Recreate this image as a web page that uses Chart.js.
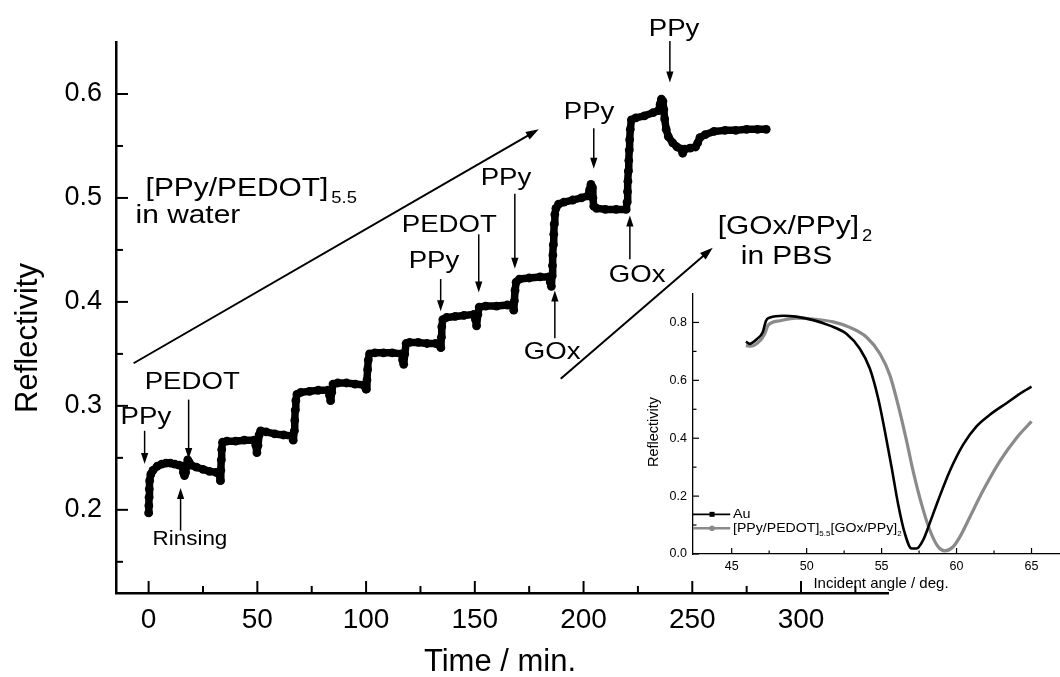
<!DOCTYPE html>
<html>
<head>
<meta charset="utf-8">
<script src="https://cdn.jsdelivr.net/npm/chart.js@4.4.1/dist/chart.umd.min.js"></script>
<style>
  html, body { margin: 0; padding: 0; background: #fff; }
  #wrap { position: relative; width: 1060px; height: 677px; overflow: hidden; }
  #mainChart { position: absolute; left: 0; top: 0; }
  #insetChart { position: absolute; left: 630px; top: 280px; }
</style>
</head>
<body>
<div id="wrap">
  <canvas id="mainChart" width="1060" height="677"></canvas>
  <canvas id="insetChart" width="430" height="320"></canvas>
</div>
<script>
// --- main plot: reflectivity vs time during layer-by-layer deposition ---
const timeMin = [
  0, 0.1, 0.2, 0.3, 0.5, 1, 2, 4, 6, 8, 10, 12, 14, 15.5, 16, 16.5, 17, 17.5, 18, 18.6,
  19.5, 22, 25, 28, 31, 32.5, 33, 33.2, 33.4, 33.6, 34, 36, 40, 44, 48.5, 49.3, 49.8, 50.3, 50.8, 51.5,
  54, 58, 62, 66, 66.5, 67, 67.2, 67.4, 67.7, 68.2, 70, 74, 78, 82.5, 83.2, 83.7, 84.2, 84.8, 87, 91,
  95, 99, 100, 100.4, 100.7, 101, 101.6, 104, 108, 112, 116.3, 116.8, 117.3, 117.8, 118.4, 120, 124, 128, 132, 134,
  134.4, 134.6, 134.8, 135.3, 137, 141, 145, 149.5, 150.3, 150.8, 151.4, 152, 155, 160, 165, 167.5, 167.9, 168.2, 168.5, 169,
  170.5, 175, 180, 184, 184.7, 185.2, 185.5, 185.7, 185.9, 186.1, 186.3, 186.5, 186.8, 187.3, 188.5, 191, 195, 199, 202, 202.8,
  203.4, 204, 204.3, 204.7, 206, 210, 215, 219.6, 220, 220.2, 220.4, 220.6, 220.8, 221, 221.2, 221.5, 222, 224, 228, 232,
  234.5, 235.2, 235.8, 236.5, 236.9, 237.3, 238, 239, 241, 243, 245, 245.6, 246.5, 249, 251.5, 252.5, 253.5, 256, 260, 265,
  270, 275, 280, 284
];
const reflectivity = [
  0.197, 0.204, 0.212, 0.220, 0.228, 0.234, 0.238, 0.242, 0.244, 0.245, 0.245, 0.244, 0.243, 0.242, 0.236, 0.233, 0.236, 0.243, 0.248, 0.246,
  0.243, 0.241, 0.239, 0.237, 0.236, 0.234, 0.228, 0.238, 0.248, 0.258, 0.265, 0.266, 0.266, 0.267, 0.267, 0.262, 0.255, 0.262, 0.272, 0.276,
  0.275, 0.273, 0.272, 0.271, 0.267, 0.276, 0.286, 0.296, 0.305, 0.311, 0.313, 0.314, 0.315, 0.315, 0.310, 0.305, 0.313, 0.321, 0.322, 0.322,
  0.321, 0.320, 0.316, 0.325, 0.335, 0.344, 0.350, 0.351, 0.351, 0.351, 0.350, 0.344, 0.340, 0.350, 0.360, 0.361, 0.361, 0.360, 0.360, 0.358,
  0.356, 0.366, 0.376, 0.383, 0.385, 0.386, 0.387, 0.388, 0.383, 0.377, 0.388, 0.395, 0.396, 0.396, 0.397, 0.397, 0.392, 0.401, 0.411, 0.419,
  0.422, 0.423, 0.424, 0.424, 0.419, 0.415, 0.425, 0.435, 0.445, 0.455, 0.465, 0.475, 0.484, 0.490, 0.494, 0.496, 0.498, 0.500, 0.502, 0.508,
  0.513, 0.510, 0.500, 0.492, 0.490, 0.489, 0.489, 0.489, 0.496, 0.506, 0.516, 0.526, 0.536, 0.546, 0.556, 0.566, 0.575, 0.577, 0.579, 0.582,
  0.584, 0.590, 0.595, 0.593, 0.585, 0.576, 0.566, 0.559, 0.553, 0.549, 0.547, 0.543, 0.547, 0.548, 0.549, 0.553, 0.558, 0.561, 0.564, 0.565,
  0.565, 0.566, 0.566, 0.566
];
const xMajorTicks = [0, 50, 100, 150, 200, 250, 300];
const xMinorTicks = [25, 75, 125, 175, 225, 275, 325];
const xTickLabels = ['0', '50', '100', '150', '200', '250', '300'];
const yMajorTicks = [0.2, 0.3, 0.4, 0.5, 0.6];
const yMinorTicks = [0.15, 0.25, 0.35, 0.45, 0.55];
const yTickLabels = ['0.2', '0.3', '0.4', '0.5', '0.6'];

// --- inset: SPR angular scans ---
const angleAu = [45.95, 46.2, 46.67, 47.07, 47.29, 47.56, 48.44, 49.3, 50.44, 51.55, 52.67, 53.55, 54.22, 54.77, 55.22,
  55.67, 56.1, 56.55, 57.0, 57.33, 57.77, 58.2, 58.77, 59.55, 60.44, 61.33, 62.22, 63.33, 64.44, 65.0];
const reflAu = [0.734, 0.726, 0.742, 0.766, 0.806, 0.817, 0.823, 0.820, 0.808, 0.789, 0.760, 0.709, 0.640, 0.538, 0.424,
  0.299, 0.173, 0.071, 0.019, 0.019, 0.048, 0.105, 0.185, 0.287, 0.378, 0.441, 0.481, 0.521, 0.561, 0.578];
const angleFilm = [45.95, 46.3, 46.89, 47.2, 47.44, 48.22, 49.3, 50.44, 51.77, 52.88, 54.0, 54.89, 55.55, 56.1, 56.67,
  57.1, 57.66, 58.22, 58.77, 59.22, 59.77, 60.22, 60.89, 61.77, 62.89, 64.0, 65.0];
const reflFilm = [0.720, 0.718, 0.737, 0.760, 0.791, 0.806, 0.815, 0.812, 0.802, 0.783, 0.749, 0.692, 0.618, 0.515, 0.390,
  0.287, 0.173, 0.082, 0.025, 0.011, 0.025, 0.059, 0.128, 0.219, 0.321, 0.401, 0.458];
const insetXMajor = [45, 50, 55, 60, 65];
const insetXMinor = [47.5, 52.5, 57.5, 62.5];
const insetXLabels = ['45', '50', '55', '60', '65'];
const insetYMajor = [0, 0.2, 0.4, 0.6, 0.8];
const insetYMinor = [0.1, 0.3, 0.5, 0.7];
const insetYLabels = ['0.0', '0.2', '0.4', '0.6', '0.8'];

// annotations (positions in data units of the main plot)
const labels = [
  { text: 'PPy', t: -12.9, r: 0.283, size: 24 },
  { text: 'PEDOT', t: -1.8, r: 0.316, size: 24 },
  { text: 'Rinsing', t: 1.8, r: 0.166, size: 19.5 },
  { text: 'PPy', t: 119.6, r: 0.433, size: 24 },
  { text: 'PEDOT', t: 116.4, r: 0.467, size: 24 },
  { text: 'PPy', t: 152.7, r: 0.512, size: 24 },
  { text: 'GOx', t: 172.5, r: 0.345, size: 24 },
  { text: 'GOx', t: 211.6, r: 0.419, size: 24 },
  { text: 'PPy', t: 190.9, r: 0.576, size: 24 },
  { text: 'PPy', t: 230.0, r: 0.656, size: 24 },
  { text: '[PPy/PEDOT]', sub: '5.5', t: -1.4, r: 0.502, size: 26 },
  { text: 'in water', t: -6.0, r: 0.476, size: 26 },
  { text: '[GOx/PPy]', sub: '2', t: 261.7, r: 0.465, size: 26 },
  { text: 'in PBS', t: 272.3, r: 0.4365, size: 26 }
];
const arrows = [
  { t1: -1.84, r1: 0.276, t2: -1.84, r2: 0.244, w: 1.5, head: 11 },
  { t1: 18.4, r1: 0.306, t2: 18.4, r2: 0.249, w: 1.5, head: 11 },
  { t1: 14.7, r1: 0.180, t2: 14.7, r2: 0.221, w: 1.5, head: 11 },
  { t1: 134.3, r1: 0.422, t2: 134.3, r2: 0.391, w: 1.5, head: 11 },
  { t1: 151.8, r1: 0.465, t2: 151.8, r2: 0.409, w: 1.5, head: 11 },
  { t1: 168.4, r1: 0.504, t2: 168.4, r2: 0.432, w: 1.5, head: 11 },
  { t1: 186.8, r1: 0.365, t2: 186.8, r2: 0.411, w: 1.5, head: 11 },
  { t1: 221.3, r1: 0.441, t2: 221.3, r2: 0.483, w: 1.5, head: 11 },
  { t1: 204.7, r1: 0.567, t2: 204.7, r2: 0.528, w: 1.5, head: 11 },
  { t1: 239.7, r1: 0.651, t2: 239.7, r2: 0.611, w: 1.5, head: 11 },
  { t1: -6.9, r1: 0.341, t2: 179.4, r2: 0.566, w: 2, head: 13 },
  { t1: 189.5, r1: 0.326, t2: 259.4, r2: 0.452, w: 2, head: 13 }
];

const FONT = "'Liberation Sans', Arial, Helvetica, sans-serif";
const STRETCH = 1.15;

function stretchText(ctx, text, x, y, size, stretch) {
  ctx.save();
  ctx.font = size + 'px ' + FONT;
  ctx.textAlign = 'left';
  ctx.textBaseline = 'alphabetic';
  ctx.translate(x, y);
  ctx.scale(stretch, 1);
  ctx.fillText(text, 0, 0);
  const w = ctx.measureText(text).width * stretch;
  ctx.restore();
  return w;
}

function drawArrow(ctx, x1, y1, x2, y2, width, head) {
  const a = Math.atan2(y2 - y1, x2 - x1);
  const c = Math.cos(a), s = Math.sin(a);
  ctx.lineWidth = width;
  ctx.beginPath();
  ctx.moveTo(x1, y1);
  ctx.lineTo(x2 - c * head * 0.7, y2 - s * head * 0.7);
  ctx.stroke();
  const hw = head * 0.33;
  ctx.beginPath();
  ctx.moveTo(x2, y2);
  ctx.lineTo(x2 - head * c + hw * s, y2 - head * s - hw * c);
  ctx.lineTo(x2 - head * c - hw * s, y2 - head * s + hw * c);
  ctx.closePath();
  ctx.fill();
}

// inward tick marks, drawn from the scales
const inTicks = {
  id: 'inTicks',
  afterDraw(chart, args, opts) {
    const { ctx, chartArea: ca, scales: { x, y } } = chart;
    ctx.save();
    ctx.strokeStyle = '#000';
    ctx.lineWidth = opts.width;
    const mark = (list, len, horiz) => list.forEach(v => {
      ctx.beginPath();
      if (horiz) {
        const px = x.getPixelForValue(v);
        ctx.moveTo(px, ca.bottom);
        ctx.lineTo(px, ca.bottom - len);
      } else {
        const py = y.getPixelForValue(v);
        ctx.moveTo(ca.left, py);
        ctx.lineTo(ca.left + len, py);
      }
      ctx.stroke();
    });
    mark(opts.xMajor, opts.major, true);
    mark(opts.xMinor, opts.minor, true);
    mark(opts.yMajor, opts.major, false);
    mark(opts.yMinor, opts.minor, false);
    ctx.restore();
  }
};

const mainDecor = {
  id: 'mainDecor',
  afterDraw(chart) {
    const { ctx, scales: { x, y } } = chart;
    ctx.save();
    ctx.fillStyle = '#000';
    ctx.strokeStyle = '#000';
    labels.forEach(l => {
      const px = x.getPixelForValue(l.t), py = y.getPixelForValue(l.r);
      const w = stretchText(ctx, l.text, px, py, l.size, STRETCH);
      if (l.sub) stretchText(ctx, l.sub, px + w + 3, py + 7, 16, STRETCH);
    });
    arrows.forEach(a => {
      drawArrow(ctx, x.getPixelForValue(a.t1), y.getPixelForValue(a.r1),
        x.getPixelForValue(a.t2), y.getPixelForValue(a.r2), a.w, a.head);
    });
    // axis titles
    ctx.font = '31px ' + FONT;
    ctx.textAlign = 'center';
    ctx.textBaseline = 'alphabetic';
    ctx.fillText('Time / min.', 500, 671);
    ctx.translate(37, 338);
    ctx.rotate(-Math.PI / 2);
    ctx.fillText('Reflectivity', 0, 0);
    ctx.restore();
  }
};

const insetDecor = {
  id: 'insetDecor',
  afterDraw(chart) {
    const { ctx, scales: { x, y } } = chart;
    ctx.save();
    ctx.fillStyle = '#000';
    // legend
    const x0 = x.getPixelForValue(42.42), x1 = x.getPixelForValue(44.9), xm = x.getPixelForValue(43.69);
    const yA = y.getPixelForValue(0.137), yF = y.getPixelForValue(0.089);
    ctx.strokeStyle = '#000';
    ctx.lineWidth = 1.6;
    ctx.beginPath(); ctx.moveTo(x0, yA); ctx.lineTo(x1, yA); ctx.stroke();
    ctx.fillRect(xm - 2.5, yA - 2.5, 5, 5);
    ctx.strokeStyle = '#8a8a8a';
    ctx.fillStyle = '#8a8a8a';
    ctx.lineWidth = 2.4;
    ctx.beginPath(); ctx.moveTo(x0, yF); ctx.lineTo(x1, yF); ctx.stroke();
    ctx.beginPath(); ctx.arc(xm, yF, 2.8, 0, Math.PI * 2); ctx.fill();
    ctx.fillStyle = '#000';
    const tx = x.getPixelForValue(45.09);
    stretchText(ctx, 'Au', tx, y.getPixelForValue(0.123), 12.5, 1.15);
    let cx = tx;
    const by = y.getPixelForValue(0.075);
    cx += stretchText(ctx, '[PPy/PEDOT]', cx, by, 12.5, 1.13);
    cx += stretchText(ctx, '5.5', cx, by + 4, 8, 1.0);
    cx += stretchText(ctx, '[GOx/PPy]', cx, by, 12.5, 1.13);
    stretchText(ctx, '2', cx, by + 4, 8, 1.0);
    // axis titles
    ctx.font = '15px ' + FONT;
    ctx.textAlign = 'center';
    ctx.fillText('Incident angle / deg.', 251, 308);
    ctx.translate(28, 152);
    ctx.rotate(-Math.PI / 2);
    ctx.font = '14.5px ' + FONT;
    ctx.fillText('Reflectivity', 0, 0);
    ctx.restore();
  }
};

const toPoints = (xs, ys) => xs.map((v, i) => ({ x: v, y: ys[i] }));

new Chart(document.getElementById('mainChart'), {
  type: 'line',
  data: {
    datasets: [{
      data: toPoints(timeMin, reflectivity),
      borderColor: '#000',
      backgroundColor: '#000',
      borderWidth: 7.5,
      borderJoinStyle: 'round',
      borderCapStyle: 'round',
      pointRadius: 4.4,
      pointBorderWidth: 0,
      tension: 0
    }]
  },
  options: {
    responsive: false,
    animation: false,
    devicePixelRatio: 1,
    layout: { padding: { left: 0, top: 42, right: 172, bottom: 0 } },
    plugins: {
      legend: { display: false },
      tooltip: { enabled: false },
      inTicks: { xMajor: xMajorTicks, xMinor: xMinorTicks, yMajor: yMajorTicks, yMinor: yMinorTicks, major: 12, minor: 7, width: 2 }
    },
    scales: {
      x: {
        type: 'linear', min: -15, max: 340,
        afterFit: s => { s.height = 84; },
        afterBuildTicks: s => { s.ticks = xMajorTicks.map(v => ({ value: v })); },
        grid: { display: false, drawTicks: false },
        border: { display: true, color: '#000', width: 2.5 },
        ticks: {
          color: '#000', padding: 10, maxRotation: 0,
          font: { family: FONT, size: 28 },
          callback: (v, i) => xTickLabels[i]
        }
      },
      y: {
        type: 'linear', min: 0.12, max: 0.65,
        afterFit: s => { s.width = 116; },
        afterBuildTicks: s => { s.ticks = yMajorTicks.map(v => ({ value: v })); },
        grid: { display: false, drawTicks: false },
        border: { display: true, color: '#000', width: 2.5 },
        ticks: {
          color: '#000', padding: 14,
          font: { family: FONT, size: 27 },
          callback: (v, i) => yTickLabels[i]
        }
      }
    }
  },
  plugins: [inTicks, mainDecor]
});

new Chart(document.getElementById('insetChart'), {
  type: 'line',
  data: {
    datasets: [{
      label: 'Au',
      data: toPoints(angleAu, reflAu),
      borderColor: '#000',
      borderWidth: 2.6,
      pointRadius: 0,
      cubicInterpolationMode: 'monotone'
    }, {
      label: '[PPy/PEDOT]5.5[GOx/PPy]2',
      data: toPoints(angleFilm, reflFilm),
      borderColor: '#8a8a8a',
      borderWidth: 3.2,
      pointRadius: 0,
      cubicInterpolationMode: 'monotone'
    }]
  },
  options: {
    responsive: false,
    animation: false,
    devicePixelRatio: 1,
    layout: { padding: { left: 0, top: 11, right: 0, bottom: 0 } },
    plugins: {
      legend: { display: false },
      tooltip: { enabled: false },
      inTicks: { xMajor: insetXMajor, xMinor: insetXMinor, yMajor: insetYMajor, yMinor: insetYMinor, major: 6, minor: 3.5, width: 1.2 }
    },
    scales: {
      x: {
        type: 'linear', min: 42.42, max: 66.9,
        afterFit: s => { s.height = 46; },
        afterBuildTicks: s => { s.ticks = insetXMajor.map(v => ({ value: v })); },
        grid: { display: false, drawTicks: false },
        border: { display: true, color: '#000', width: 1.3 },
        ticks: {
          color: '#000', padding: 5, maxRotation: 0,
          font: { family: FONT, size: 12.5 },
          callback: (v, i) => insetXLabels[i]
        }
      },
      y: {
        type: 'linear', min: 0, max: 0.9,
        afterFit: s => { s.width = 63; },
        afterBuildTicks: s => { s.ticks = insetYMajor.map(v => ({ value: v })); },
        grid: { display: false, drawTicks: false },
        border: { display: true, color: '#000', width: 1.3 },
        ticks: {
          color: '#000', padding: 6,
          font: { family: FONT, size: 12.5 },
          callback: (v, i) => insetYLabels[i]
        }
      }
    }
  },
  plugins: [inTicks, insetDecor]
});
</script>
</body>
</html>
